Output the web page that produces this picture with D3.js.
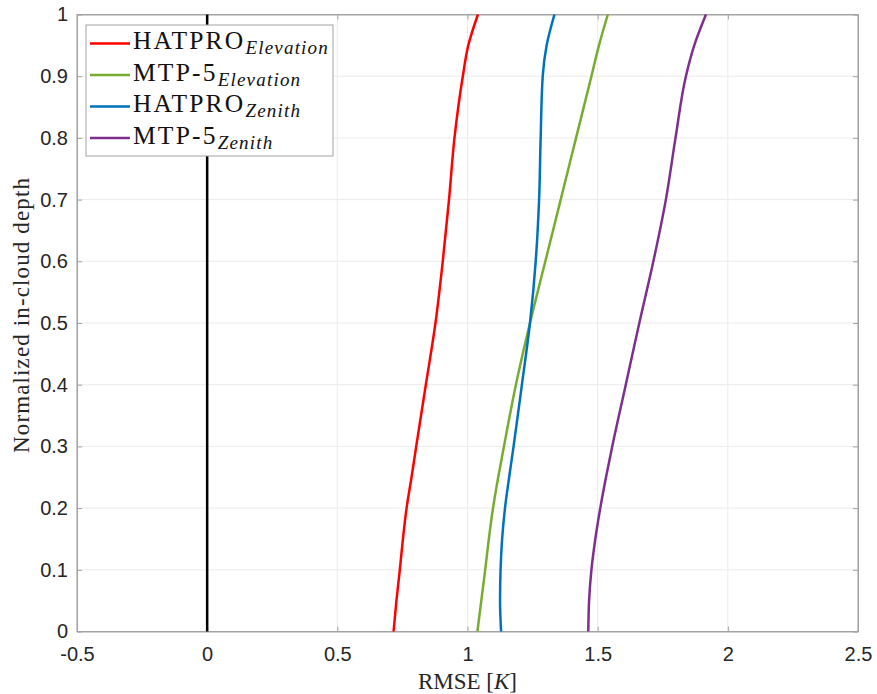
<!DOCTYPE html>
<html>
<head>
<meta charset="utf-8">
<script src="https://cdn.jsdelivr.net/npm/d3@7"></script>
<style>
  body { margin: 0; background: #fff; }
  svg { display: block; }
  .tick text { font-family: "Liberation Sans", Arial, sans-serif; font-size: 20px; fill: #262626; }
</style>
</head>
<body>
<div id="chart"></div>
<script>
// normalized in-cloud depth (y) sampled for every series
const depth = [0, 0.05, 0.1, 0.15, 0.2, 0.25, 0.3, 0.4, 0.5, 0.6, 0.7, 0.8, 0.9, 0.95, 1];

// RMSE [K] per depth
const hatproElev = [0.716, 0.727, 0.740, 0.752, 0.766, 0.785, 0.803, 0.840, 0.877, 0.905, 0.929, 0.950, 0.982, 1.003, 1.040];
const mtpElev    = [1.038, 1.053, 1.068, 1.082, 1.098, 1.118, 1.140, 1.186, 1.240, 1.299, 1.358, 1.417, 1.476, 1.505, 1.539];
const hatproZen  = [1.129, 1.125, 1.127, 1.133, 1.144, 1.160, 1.177, 1.209, 1.240, 1.262, 1.275, 1.281, 1.289, 1.304, 1.334];
const mtpZen     = [1.464, 1.467, 1.476, 1.491, 1.510, 1.532, 1.556, 1.608, 1.660, 1.714, 1.762, 1.799, 1.839, 1.871, 1.916];

const seriesNames = ["HATPRO", "MTP-5", "HATPRO", "MTP-5"];
const seriesSubs = ["Elevation", "Elevation", "Zenith", "Zenith"];
const seriesColors = ["#ff0000", "#77ac30", "#0072bd", "#7e2f8e"];
const seriesValues = [hatproElev, mtpElev, hatproZen, mtpZen];

const xTicks = [-0.5, 0, 0.5, 1, 1.5, 2, 2.5];
const yTicks = [0, 0.1, 0.2, 0.3, 0.4, 0.5, 0.6, 0.7, 0.8, 0.9, 1];

const width = 877, height = 694;
const margin = { top: 14.5, right: 19, bottom: 62.5, left: 77 };
const frame = "#a3a3a3";
const serif = "Liberation Serif, Times New Roman, serif";

const svg = d3.select("#chart").append("svg")
  .attr("width", width)
  .attr("height", height);

const x = d3.scaleLinear().domain([-0.5, 2.5]).range([margin.left, width - margin.right]);
const y = d3.scaleLinear().domain([0, 1]).range([height - margin.bottom, margin.top]);

// grid
svg.append("g")
  .selectAll("line")
  .data(xTicks)
  .join("line")
  .attr("x1", d => x(d)).attr("x2", d => x(d))
  .attr("y1", y(0)).attr("y2", y(1))
  .attr("stroke", "#ebebeb").attr("stroke-width", 1);
svg.append("g")
  .selectAll("line")
  .data(yTicks)
  .join("line")
  .attr("y1", d => y(d)).attr("y2", d => y(d))
  .attr("x1", x(-0.5)).attr("x2", x(2.5))
  .attr("stroke", "#ebebeb").attr("stroke-width", 1);

// axes with inward ticks (plain hyphen for negatives, like the original)
const fmt = d => String(d);
const xAxis = d3.axisBottom(x).tickValues(xTicks).tickFormat(fmt).tickSizeInner(-5).tickSizeOuter(0).tickPadding(15);
const yAxis = d3.axisLeft(y).tickValues(yTicks).tickFormat(fmt).tickSizeInner(-5).tickSizeOuter(0).tickPadding(9);

svg.append("g").attr("transform", `translate(0,${y(0)})`).call(xAxis);
svg.append("g").attr("transform", `translate(${x(-0.5)},0)`).call(yAxis);
svg.append("g").attr("transform", `translate(0,${y(1)})`)
  .call(d3.axisTop(x).tickValues(xTicks).tickFormat("").tickSizeInner(-5).tickSizeOuter(0));
svg.append("g").attr("transform", `translate(${x(2.5)},0)`)
  .call(d3.axisRight(y).tickValues(yTicks).tickFormat("").tickSizeInner(-5).tickSizeOuter(0));
svg.selectAll(".domain, .tick line").attr("stroke", frame);

// box frame
svg.append("rect")
  .attr("x", x(-0.5)).attr("y", y(1))
  .attr("width", x(2.5) - x(-0.5)).attr("height", y(0) - y(1))
  .attr("fill", "none").attr("stroke", frame).attr("stroke-width", 1);

// zero reference line
svg.append("line")
  .attr("x1", x(0)).attr("x2", x(0))
  .attr("y1", y(0)).attr("y2", y(1))
  .attr("stroke", "#000").attr("stroke-width", 2.5);

// profiles
const line = d3.line()
  .curve(d3.curveMonotoneY)
  .x(d => x(d[0]))
  .y(d => y(d[1]));

svg.append("g")
  .selectAll("path")
  .data(seriesValues)
  .join("path")
  .attr("d", vals => line(vals.map((v, i) => [v, depth[i]])))
  .attr("fill", "none")
  .attr("stroke", (d, i) => seriesColors[i])
  .attr("stroke-width", 2.5)
  .attr("stroke-linejoin", "round");

// axis labels
const xl = svg.append("text")
  .attr("x", 467.5).attr("y", 689)
  .attr("text-anchor", "middle")
  .attr("font-family", serif)
  .attr("font-size", 23)
  .attr("fill", "#262626");
xl.append("tspan").text("RMSE [");
xl.append("tspan").attr("font-style", "italic").text("K");
xl.append("tspan").text("]");

svg.append("text")
  .attr("transform", "translate(29,315.5) rotate(-90)")
  .attr("text-anchor", "middle")
  .attr("font-family", serif)
  .attr("font-size", 23)
  .attr("fill", "#262626")
  .attr("textLength", 275)
  .attr("lengthAdjust", "spacing")
  .text("Normalized in-cloud depth");

// legend
const legend = svg.append("g");
legend.append("rect")
  .attr("x", 86).attr("y", 25)
  .attr("width", 247).attr("height", 131)
  .attr("fill", "#fff").attr("stroke", frame).attr("stroke-width", 1);

const rows = legend.selectAll("g")
  .data(seriesNames)
  .join("g")
  .attr("transform", (d, i) => `translate(0,${43.5 + i * 31.5})`);
rows.append("line")
  .attr("x1", 90).attr("x2", 130)
  .attr("stroke", (d, i) => seriesColors[i])
  .attr("stroke-width", 2.5);
const rt = rows.append("text")
  .attr("x", 133).attr("y", 5.5)
  .attr("font-family", serif)
  .attr("font-size", 25.5)
  .attr("fill", "#111");
rt.append("tspan")
  .attr("letter-spacing", 2.2)
  .text(d => d);
rt.append("tspan")
  .attr("font-style", "italic")
  .attr("font-size", 19)
  .attr("letter-spacing", 1.2)
  .attr("dy", 5)
  .text((d, i) => seriesSubs[i]);
</script>
</body>
</html>
